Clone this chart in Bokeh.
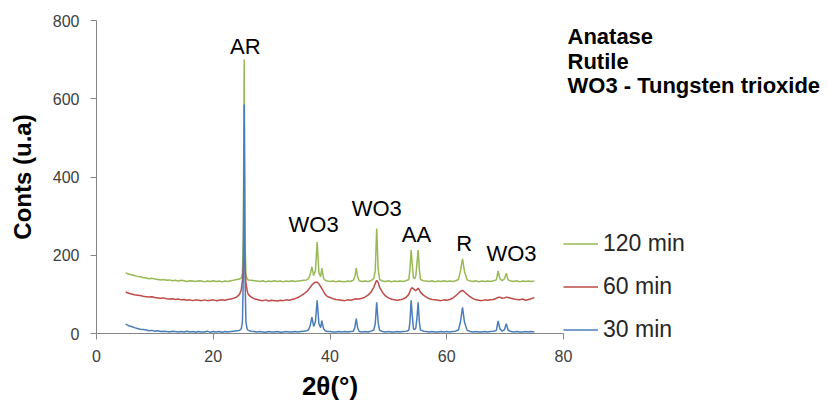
from bokeh.plotting import figure
from bokeh.models import Label, Legend, LegendItem, FixedTicker, Range1d
from bokeh.embed import file_html
from bokeh.resources import INLINE

# ---- data ----
two_theta = [
    5.0, 5.5, 6.0, 6.5, 7.0, 7.5, 8.0, 8.5, 9.0, 9.5, 10.0, 10.5, 11.0, 11.5, 12.0, 12.5, 13.0, 13.5, 14.0, 14.5,
    15.0, 15.5, 16.0, 16.5, 17.0, 17.5, 18.0, 18.5, 19.0, 19.5, 20.0, 20.5, 21.0, 21.5, 22.0, 22.5, 23.0, 23.5, 24.0,
    24.5, 24.8, 25.0, 25.15, 25.3, 25.45, 25.6, 25.8, 26.0,
    26.5, 27.0, 27.5, 28.0, 28.5, 29.0, 29.5, 30.0, 30.5, 31.0, 31.5, 32.0, 32.5, 33.0, 33.5, 34.0, 34.5, 35.0, 35.5, 36.0,
    36.3, 36.6, 36.9, 37.2, 37.5, 37.8, 38.1, 38.4, 38.6, 38.9, 39.2, 39.5,
    40.0, 40.5, 41.0, 41.5, 42.0, 42.5, 43.0, 43.5, 44.0,
    44.25, 44.5, 44.75,
    45.0, 45.5, 46.0, 46.5, 47.0, 47.5,
    47.75, 48.0, 48.25, 48.5,
    49.0, 49.5, 50.0, 50.5, 51.0, 51.5, 52.0, 52.5, 53.0, 53.5,
    53.7, 53.9, 54.1, 54.3, 54.5, 54.7, 54.9, 55.1, 55.3, 55.5,
    56.0, 56.5, 57.0, 57.5, 58.0, 58.5, 59.0, 59.5, 60.0, 60.5, 61.0, 61.5, 62.0,
    62.35, 62.7, 63.05,
    63.5, 64.0, 64.5, 65.0, 65.5, 66.0, 66.5, 67.0, 67.5, 68.0, 68.5,
    68.8, 69.1, 69.5, 69.9, 70.2, 70.5,
    71.0, 71.5, 72.0, 72.5, 73.0, 73.5, 74.0, 74.5, 75.0,
]

counts_30 = [
    24, 20, 18, 15, 13, 11, 10, 9, 7, 8, 6, 7, 5, 6, 5, 4, 6, 5, 4, 5,
    4, 6, 4, 5, 3, 5, 4, 4, 6, 3, 5, 4, 5, 3, 5, 4, 5, 6, 7,
    8, 12, 30, 150, 585, 140, 30, 12, 8,
    6, 5, 4, 5, 4, 3, 5, 4, 4, 5, 3, 4, 5, 4, 4, 5, 4, 5, 6, 7,
    9, 20, 42, 18, 30, 85, 25, 15, 33, 12, 7, 5,
    5, 4, 4, 5, 4, 5, 4, 5, 6,
    15, 38, 14,
    5, 4, 5, 4, 6, 9,
    25, 80, 28, 8,
    5, 4, 5, 4, 4, 5, 4, 5, 6, 8,
    30, 85, 45, 12, 10, 14, 40, 80, 30, 9,
    6, 5, 4, 5, 4, 4, 5, 4, 5, 4, 5, 6, 9,
    30, 67, 28,
    8, 5, 4, 5, 4, 4, 5, 4, 5, 6, 8,
    32, 12, 6, 10, 25, 9,
    5, 4, 5, 4, 4, 5, 4, 5, 4,
]

counts_60 = [
    106, 103, 101, 99, 98, 97, 95, 94, 93, 94, 92, 91, 90, 91, 89, 88, 89, 87, 88, 86,
    87, 85, 86, 84, 86, 85, 84, 86, 84, 85, 86, 84, 85, 86, 85, 87, 88, 90, 93,
    100, 112, 135, 170, 205, 165, 130, 110, 100,
    93, 89, 87, 85, 84, 86, 83, 85, 84, 83, 85, 84, 86, 85, 87, 89, 92, 96, 101, 107,
    112, 118, 124, 128, 131, 131, 127, 120, 115, 107, 100, 95,
    92, 89, 87, 86, 85, 84, 86, 85, 87,
    88, 89, 88,
    88, 90, 93, 98, 105, 118,
    128, 136, 130, 118,
    105, 96, 91, 88, 86, 85, 86, 88, 92, 100,
    108, 115, 117, 114, 111, 110, 112, 116, 112, 105,
    98, 93, 89, 87, 86, 85, 84, 86, 85, 87, 90, 96, 103,
    108, 110, 106,
    100, 94, 89, 86, 85, 84, 86, 85, 86, 87, 90,
    92, 93, 90, 91, 93, 92,
    90, 88, 87, 86, 88, 85, 87, 89, 92,
]

counts_120 = [
    155, 152, 150, 148, 146, 145, 143, 142, 140, 141, 139, 138, 137, 138, 136, 137, 135, 136, 134, 136,
    135, 133, 135, 134, 133, 135, 134, 132, 134, 133, 135, 133, 134, 132, 134, 133, 135, 136, 138,
    139, 142, 155, 250, 700, 240, 150, 140, 137,
    136, 135, 134, 133, 135, 132, 134, 133, 135, 133, 134, 132, 134, 133, 135, 133, 134, 135, 136, 137,
    140, 150, 170, 148, 160, 234, 155, 145, 167, 140, 136, 134,
    133, 134, 132, 134, 133, 132, 134, 133, 136,
    145, 167, 144,
    135, 133, 134, 133, 135, 140,
    160, 268, 165, 138,
    134, 133, 135, 132, 134, 133, 134, 133, 135, 138,
    165, 213, 175, 142, 140, 148, 180, 213, 165, 138,
    135, 134, 133, 135, 132, 134, 133, 135, 133, 134, 133, 135, 138,
    160, 191, 158,
    137, 134, 133, 135, 132, 134, 133, 134, 133, 135, 137,
    160, 140, 135, 140, 154, 137,
    134, 133, 135, 132, 134, 133, 134, 133, 134,
]

series_names = ["120 min", "60 min", "30 min"]
series_colors = ["#98b954", "#be4b48", "#4a7ebb"]

peak_labels = ["AR", "WO3", "WO3", "AA", "R", "WO3"]
peak_label_x = [25.5, 37.2, 48.0, 54.8, 63.0, 71.1]
peak_label_y = [733, 279, 319, 253, 230, 204]

note_lines = ["Anatase", "Rutile", "WO3 - Tungsten trioxide"]

x_ticks = [0, 20, 40, 60, 80]
y_ticks = [0, 200, 400, 600, 800]

FONT = "Liberation Sans"

# plotting area in pixels: x 96..563 (0..80), y 20..333 (800..0)
PX_X = 467 / 80.0
PX_Y = 313 / 800.0

def px_to_x(px):
    return (px - 96) / PX_X

def py_to_y(py):
    return (333 - py) / PX_Y

# the frame covers the whole canvas so that annotations and axes are not clipped;
# the axes are pinned at x=0 and y=0
p = figure(width=828, height=401, output_backend="svg", toolbar_location=None,
           x_range=Range1d(px_to_x(0), px_to_x(828)), y_range=Range1d(py_to_y(401), py_to_y(0)),
           min_border_left=0, min_border_right=0, min_border_top=0, min_border_bottom=0)
p.background_fill_color = "white"
p.border_fill_color = "white"
p.outline_line_color = None
p.grid.visible = False

for ax in (p.xaxis[0], p.yaxis[0]):
    ax.axis_line_color = "#868686"
    ax.major_tick_line_color = "#868686"
    ax.minor_tick_line_color = None
    ax.major_tick_in = 0
    ax.major_tick_out = 6
    ax.major_label_text_font = FONT
    ax.major_label_text_font_size = "16px"
    ax.major_label_text_color = "#404040"
    ax.axis_label_text_font = FONT
    ax.axis_label_text_font_style = "bold"
    ax.axis_label_text_color = "#000000"

p.xaxis.fixed_location = 0
p.yaxis.fixed_location = 0
p.xaxis.bounds = (0, 80)
p.yaxis.bounds = (0, 800)
p.xaxis.ticker = FixedTicker(ticks=x_ticks)
p.yaxis.ticker = FixedTicker(ticks=y_ticks)
p.xaxis.major_label_standoff = 10
p.yaxis.major_label_standoff = 11
p.xaxis.axis_label = "2θ(°)"
p.xaxis.axis_label_text_font_size = "26px"
p.xaxis.axis_label_standoff = 6
p.yaxis.axis_label = "Conts (u.a)"
p.yaxis.axis_label_text_font_size = "24px"
p.yaxis.axis_label_standoff = 14

ys = {"120 min": counts_120, "60 min": counts_60, "30 min": counts_30}
renderers = {}
for name, color in zip(series_names, series_colors):
    renderers[name] = p.line(two_theta, ys[name], line_color=color, line_width=1.5)

legend = Legend(items=[LegendItem(label=n, renderers=[renderers[n]]) for n in series_names],
                location=(563, 401 - 350.5), orientation="vertical")
legend.background_fill_alpha = 0
legend.border_line_color = None
legend.padding = 0
legend.margin = 0
legend.spacing = 0
legend.glyph_width = 35
legend.glyph_height = 43
legend.label_height = 43
legend.label_standoff = 5
legend.label_text_font = FONT
legend.label_text_font_size = "23px"
legend.label_text_color = "#262626"
p.add_layout(legend, "center")

for t, lx, ly in zip(peak_labels, peak_label_x, peak_label_y):
    p.add_layout(Label(x=lx, y=ly, text=t, text_align="center", text_baseline="middle",
                       text_font=FONT, text_font_size="22px", text_color="#000000"))

# note at top right (pixel x 567, baselines 36, 61, 85)
for i, t in enumerate(note_lines):
    p.add_layout(Label(x=px_to_x(567), y=py_to_y(36 + 24.5 * i), text=t, text_align="left",
                       text_baseline="alphabetic", text_font=FONT, text_font_size="22px",
                       text_font_style="bold", text_color="#000000"))

open("out.html", "w").write(file_html(p, INLINE))
